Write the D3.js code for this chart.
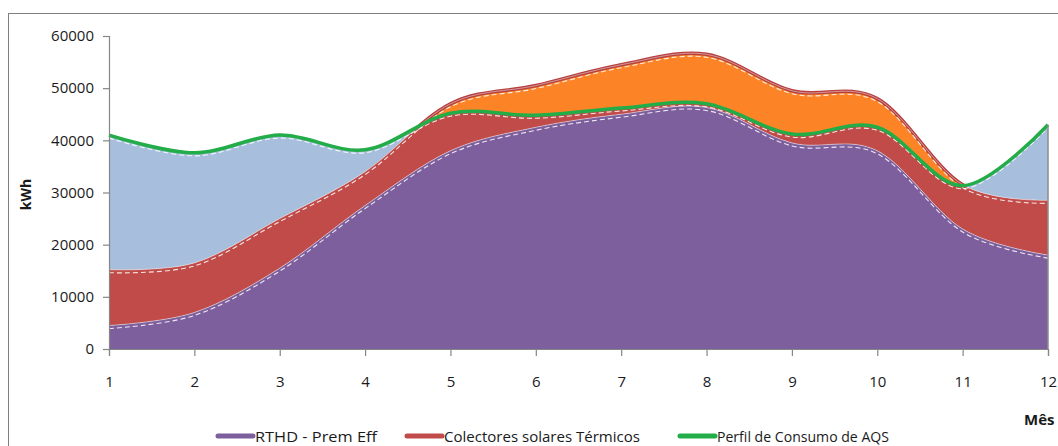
<!DOCTYPE html>
<html>
<head>
<meta charset="utf-8">
<script src="https://cdn.jsdelivr.net/npm/d3@7"></script>
<style>
  html, body { margin: 0; padding: 0; background: #fff; }
  svg { display: block; }
  text { font-family: "Open Sans", "Liberation Sans", sans-serif; fill: #1a1a1a; }
</style>
</head>
<body>
<svg id="chart" width="1058" height="446"></svg>
<script>
// Monthly energy (kWh)
const months = [1, 2, 3, 4, 5, 6, 7, 8, 9, 10, 11, 12];
const rthd = [4500, 7000, 15500, 27500, 38000, 42500, 45000, 46300, 39500, 38000, 23000, 18000];
const colectores = [10700, 9500, 9500, 6500, 9000, 8000, 9500, 10200, 10000, 10000, 8500, 10500];
const consumoAQS = [41000, 37600, 41000, 38200, 45200, 44800, 46200, 47000, 41200, 42500, 31300, 43000];
const yTicks = [0, 10000, 20000, 30000, 40000, 50000, 60000];
const seriesNames = ["RTHD - Prem Eff", "Colectores solares Térmicos", "Perfil de Consumo de AQS"];

const svg = d3.select("#chart");
const W = 1058, H = 446;

const x = d3.scaleLinear().domain([1, 12]).range([109, 1048]);
const y = d3.scaleLinear().domain([0, 60000]).range([349, 36]);

const rows = months.map((m, i) => ({
  m,
  p: rthd[i],
  s: rthd[i] + colectores[i],
  g: consumoAQS[i]
}));

const curve = d3.curveCardinal.tension(0);

// outer frame
svg.append("rect")
  .attr("x", 8.5).attr("y", 13.5)
  .attr("width", W + 10).attr("height", H + 10)
  .attr("fill", "none").attr("stroke", "#7f7f7f").attr("stroke-width", 1);

const defs = svg.append("defs");
function clipArea(id, acc, above) {
  const a = d3.area().curve(curve).x(d => x(d.m));
  if (above) a.y0(() => 0).y1(d => y(acc(d)));
  else a.y0(() => y(0)).y1(d => y(acc(d)));
  defs.append("clipPath").attr("id", id).append("path").attr("d", a(rows));
}
clipArea("aboveG", d => d.g, true);
clipArea("belowG", d => d.g, false);
clipArea("aboveS", d => d.s, true);
clipArea("belowS", d => d.s, false);

const band = (lo, hi) => d3.area().curve(curve)
  .x(d => x(d.m)).y0(d => y(lo(d))).y1(d => y(hi(d)));

// shortfall: between stacked supply and the demand profile
svg.append("g").attr("clip-path", "url(#belowG)")
  .append("g").attr("clip-path", "url(#aboveS)")
  .append("path").attr("d", band(() => 0, d => 60000)(rows))
  .attr("fill", "#a7bfdc");

// solar collectors band
svg.append("path").attr("d", band(d => d.p, d => d.s)(rows)).attr("fill", "#c04b48");

// surplus: stacked supply above demand
svg.append("g").attr("clip-path", "url(#aboveG)")
  .append("g").attr("clip-path", "url(#belowS)")
  .append("path").attr("d", band(() => 0, d => 60000)(rows))
  .attr("fill", "#fc8426");

// heat pump area
svg.append("path").attr("d", band(() => 0, d => d.p)(rows)).attr("fill", "#7e5f9d");

const line = acc => d3.line().curve(curve).x(d => x(d.m)).y(d => y(acc(d)));

// top outline of the collectors band where it exceeds demand
svg.append("g").attr("clip-path", "url(#aboveG)")
  .append("path").attr("d", line(d => d.s)(rows))
  .attr("fill", "none").attr("stroke", "#b5403f").attr("stroke-width", 3.5);

// light edge lines and dashed highlights
[d => d.p, d => d.s].forEach(acc => {
  svg.append("path").attr("d", line(acc)(rows))
    .attr("fill", "none").attr("stroke", "#ffffff").attr("stroke-opacity", 0.45)
    .attr("stroke-width", 1);
});
[d => d.p, d => d.s, d => d.g].forEach(acc => {
  svg.append("path").attr("d", line(acc)(rows))
    .attr("transform", "translate(0,3)")
    .attr("fill", "none").attr("stroke", "#ffffff").attr("stroke-opacity", 0.85)
    .attr("stroke-width", 1.1).attr("stroke-dasharray", "5,3");
});

// demand profile line
svg.append("path").attr("d", line(d => d.g)(rows))
  .attr("fill", "none").attr("stroke", "#23ad48").attr("stroke-width", 3.5);

// right edge of the plotted region
svg.append("line")
  .attr("x1", x(12)).attr("x2", x(12))
  .attr("y1", y(0)).attr("y2", y(rows[11].g))
  .attr("stroke", "#8c8c8c").attr("stroke-width", 1.5);

// axes
const axisColor = "#868686";
const yAxis = svg.append("g").attr("transform", `translate(${x(1)},0)`)
  .call(d3.axisLeft(y).tickValues(yTicks).tickSize(6).tickPadding(9).tickFormat(d3.format("d")));
const xAxis = svg.append("g").attr("transform", `translate(0,${y(0)})`)
  .call(d3.axisBottom(x).tickValues(months).tickSize(7).tickPadding(20).tickFormat(d3.format("d")));
[yAxis, xAxis].forEach(g => {
  g.select(".domain").attr("stroke", axisColor).attr("stroke-width", 1.2);
  g.selectAll(".tick line").attr("stroke", axisColor).attr("stroke-width", 1.2);
  g.selectAll(".tick text").attr("fill", "#1a1a1a")
    .style("font-family", "'Open Sans', sans-serif").style("font-size", "15px");
});

// axis titles
svg.append("text")
  .attr("transform", `translate(31,${y(30000) + 2}) rotate(-90)`)
  .attr("text-anchor", "middle")
  .style("font-size", "14px").style("font-weight", "bold")
  .text("kWh");
svg.append("text")
  .attr("x", 1024).attr("y", 425)
  .style("font-size", "15px").style("font-weight", "bold")
  .text("Mês");

// legend
const legendColors = ["#7e5f9d", "#c04b48", "#23ad48"];
const legendX = [218, 407, 680];
const legendW = [122, 196, 172];
const leg = svg.append("g");
seriesNames.forEach((name, i) => {
  leg.append("line")
    .attr("x1", legendX[i]).attr("x2", legendX[i] + 35)
    .attr("y1", 436).attr("y2", 436)
    .attr("stroke", legendColors[i]).attr("stroke-width", 5).attr("stroke-linecap", "round");
  leg.append("text")
    .attr("x", legendX[i] + 37).attr("y", 442)
    .attr("textLength", legendW[i]).attr("lengthAdjust", "spacingAndGlyphs")
    .style("font-size", "15px")
    .text(name);
});
</script>
</body>
</html>
